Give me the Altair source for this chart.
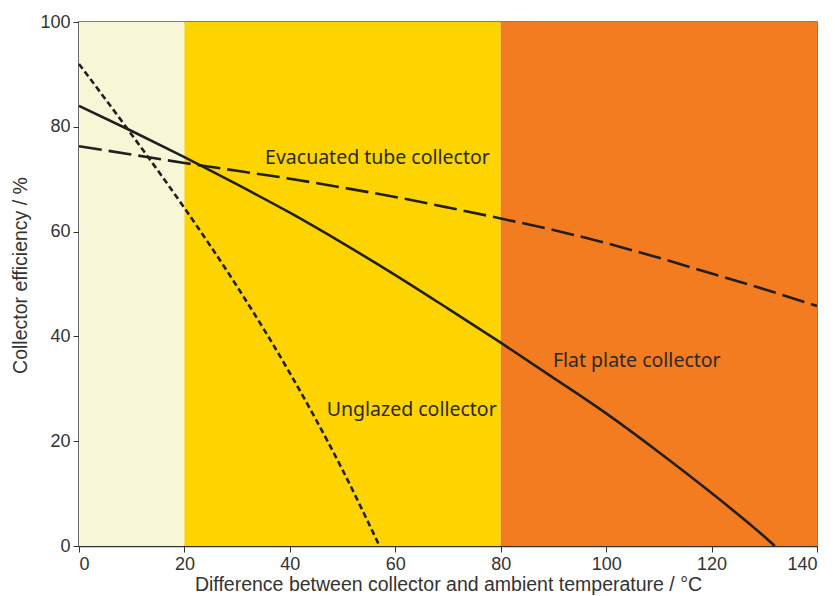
import altair as alt
import pandas as pd

# Background bands
band_start = [0, 20, 80]
band_end = [20, 80, 140]
band_name = ["low", "mid", "high"]
band_colors = ["#F7F6D6", "#FDD400", "#F37B20"]

# Curves
flat_x = [0, 10, 20, 30, 40, 50, 60, 70, 80, 90, 100, 110, 120, 130, 132]
flat_y = [84, 79.2, 74.2, 69.0, 63.6, 57.8, 51.7, 45.3, 38.8, 32.1, 25.3, 17.9, 10.1, 1.8, 0]

evac_x = [0, 10, 20, 30, 40, 50, 60, 70, 80, 90, 100, 110, 120, 130, 140]
evac_y = [76.3, 74.7, 73.1, 71.6, 70.1, 68.4, 66.6, 64.6, 62.5, 60.3, 57.8, 55.0, 52.0, 49.0, 45.8]

ungl_x = [0, 10, 20, 30, 40, 50, 57]
ungl_y = [92, 78.5, 64.5, 49.5, 33, 14.5, 0]

label_text = ["Evacuated tube collector", "Flat plate collector", "Unglazed collector"]
label_x = [35.3, 89.9, 47.0]
label_y = [74.0, 35.3, 26.0]

x_ticks = [0, 20, 40, 60, 80, 100, 120, 140]
y_ticks = [0, 20, 40, 60, 80, 100]

bands = pd.DataFrame({"x": band_start, "x2": band_end, "name": band_name,
                      "y": [0] * 3, "y2": [100] * 3})
flat = pd.DataFrame({"x": flat_x, "y": flat_y})
evac = pd.DataFrame({"x": evac_x, "y": evac_y})
ungl = pd.DataFrame({"x": ungl_x, "y": ungl_y})
labels = pd.DataFrame({"x": label_x, "y": label_y, "t": label_text})

FONT = "Liberation Sans"
xscale = alt.Scale(domain=[0, 140], nice=False)
yscale = alt.Scale(domain=[0, 100], nice=False)

xaxis = alt.Axis(values=x_ticks, title="Difference between collector and ambient temperature / °C",
                 grid=False, tickSize=6, labelPadding=3, titlePadding=2)
yaxis = alt.Axis(values=y_ticks, title="Collector efficiency / %", grid=False,
                 tickSize=6, labelPadding=3, titlePadding=9, titleY=253)

bg = alt.Chart(bands).mark_rect().encode(
    x=alt.X("x:Q", scale=xscale, axis=xaxis),
    x2="x2:Q",
    y=alt.Y("y:Q", scale=yscale, axis=yaxis),
    y2="y2:Q",
    color=alt.Color("name:N", scale=alt.Scale(domain=band_name, range=band_colors), legend=None),
)

def line(df, dash):
    kw = dict(color="#231f20", strokeWidth=2.6, interpolate="monotone")
    if dash:
        kw["strokeDash"] = dash
    return alt.Chart(df).mark_line(**kw).encode(
        x=alt.X("x:Q", scale=xscale), y=alt.Y("y:Q", scale=yscale))

texts = alt.Chart(labels).mark_text(align="left", baseline="middle", font="Noto Sans",
                                     fontSize=19.5, color="#2a2a2a").encode(
    x=alt.X("x:Q", scale=xscale), y=alt.Y("y:Q", scale=yscale), text="t:N")

chart = alt.layer(
    bg, line(flat, None), line(evac, [23, 7]), line(ungl, [6, 3.5]), texts
).properties(
    width=738, height=524,
    autosize=alt.AutoSizeParams(type="none"),
    padding={"left": 71, "top": 14, "right": 10, "bottom": 50},
).configure_view(
    stroke="#555555", strokeWidth=1.5
).configure_axis(
    labelFont=FONT, titleFont=FONT, labelFontSize=18, titleFontSize=19.5,
    labelColor="#333333", titleColor="#333333", titleFontWeight="normal",
    domainColor="#333333", tickColor="#333333", domainWidth=1.5,
)

chart.save("out.html", embed_options={"renderer": "svg", "actions": False})
